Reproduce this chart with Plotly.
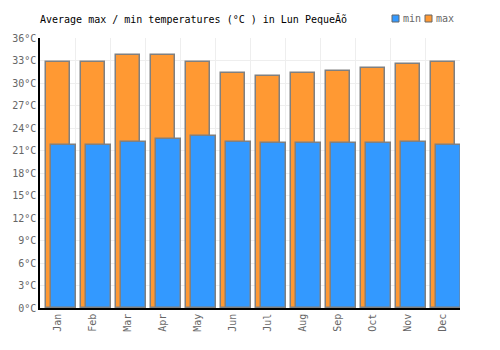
import plotly.graph_objects as go

months = ["Jan", "Feb", "Mar", "Apr", "May", "Jun", "Jul", "Aug", "Sep", "Oct", "Nov", "Dec"]
max_temp = [32.8, 32.8, 33.7, 33.8, 32.8, 31.4, 31.0, 31.3, 31.6, 32.0, 32.6, 32.8]
min_temp = [21.7, 21.7, 22.1, 22.6, 22.9, 22.1, 22.0, 22.0, 22.0, 22.0, 22.1, 21.8]
y_ticks = list(range(0, 37, 3))
y_labels = [f"{v}°C" for v in y_ticks]
series_names = ["min", "max"]
series_colors = ["#3399FF", "#FF9933"]

font_family = "DejaVu Sans Mono"
W, H = 500, 350

fig = go.Figure()
fig.add_trace(go.Bar(
    x=months, y=max_temp, name="max",
    marker=dict(color="#FF9933", line=dict(color="#808080", width=1.5)),
    offset=-0.33, width=0.69,
))
fig.add_trace(go.Bar(
    x=months, y=min_temp, name="min",
    marker=dict(color="#3399FF", line=dict(color="#808080", width=1.5)),
    offset=-0.19, width=0.72,
))

# manual legend (top right)
legend_x = [392, 425]
for nm, col, lx in zip(series_names, series_colors, legend_x):
    fig.add_shape(type="rect", xref="paper", yref="paper",
                  x0=(lx - 40) / 420, x1=(lx - 40 + 7) / 420,
                  y0=(308 - 22) / 270, y1=(308 - 15) / 270,
                  fillcolor=col, line=dict(color="#666666", width=1))
    fig.add_annotation(text=nm, xref="paper", yref="paper",
                       x=(lx - 40 + 9) / 420, y=(308 - 18.5) / 270,
                       xanchor="left", yanchor="middle", showarrow=False,
                       font=dict(family=font_family, size=10, color="#666666"))

fig.update_layout(
    width=W, height=H,
    margin=dict(l=40, r=40, t=38, b=42, autoexpand=False),
    paper_bgcolor="white", plot_bgcolor="white",
    barmode="overlay",
    font=dict(family=font_family, size=10, color="#666666"),
    title=dict(text="Average max / min temperatures (°C ) in Lun PequeẴo",
               x=40/W, xanchor="left", y=1-19/H, yanchor="middle",
               font=dict(family=font_family, size=10, color="#000000")),
    showlegend=False,
    bargap=0,
)
fig.update_xaxes(
    type="category", tickson="boundaries", showgrid=True, gridcolor="#eeeeee",
    showline=True, linecolor="#000000", linewidth=1.5, tickangle=-90,
    ticks="", range=[-0.5, 11.5],
)
fig.update_yaxes(
    range=[0, 36], tickvals=y_ticks, ticktext=y_labels, showgrid=True,
    gridcolor="#eeeeee", showline=True, linecolor="#000000", linewidth=1.5,
    zeroline=False, ticks="",
)

fig.write_html("out.html")
